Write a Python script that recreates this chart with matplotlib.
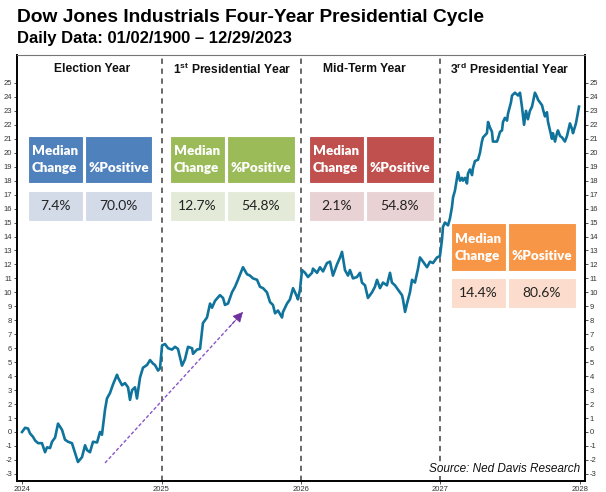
import matplotlib
matplotlib.use("Agg")
import matplotlib.pyplot as plt
from matplotlib.patches import Rectangle

plt.rcParams['font.family'] = ['Liberation Sans', 'DejaVu Sans']
plt.rcParams['mathtext.fontset'] = 'custom'
plt.rcParams['mathtext.rm'] = 'Liberation Sans'
plt.rcParams['mathtext.bf'] = 'Liberation Sans:bold'
plt.rcParams['axes.unicode_minus'] = False

# ---- data ----
# years since start of cycle (election year = 0)
cycle_t = [
    0.000, 0.022, 0.043, 0.057, 0.079, 0.093, 0.115, 0.143, 0.165, 0.179,
    0.201, 0.215, 0.237, 0.258, 0.287, 0.308, 0.330, 0.358, 0.380, 0.401,
    0.430, 0.452, 0.466, 0.487, 0.509, 0.538, 0.559, 0.573, 0.595, 0.609,
    0.631, 0.652, 0.681, 0.688, 0.717, 0.738, 0.760, 0.774, 0.789, 0.810,
    0.824, 0.846, 0.867, 0.896, 0.918, 0.939, 0.953, 0.975, 0.989, 1.004,
    1.025, 1.047, 1.075, 1.097, 1.118, 1.147, 1.168, 1.190, 1.219, 1.226,
    1.254, 1.276, 1.297, 1.326, 1.348, 1.362, 1.384, 1.419, 1.441, 1.455,
    1.477, 1.505, 1.527, 1.548, 1.584, 1.613, 1.634, 1.656, 1.685, 1.706,
    1.728, 1.756, 1.778, 1.799, 1.814, 1.835, 1.864, 1.871, 1.900, 1.921,
    1.943, 1.971, 1.978, 1.993, 2.007, 2.029, 2.050, 2.079, 2.086, 2.115,
    2.136, 2.158, 2.186, 2.208, 2.229, 2.258, 2.280, 2.294, 2.315, 2.337,
    2.351, 2.373, 2.401, 2.423, 2.437, 2.459, 2.480, 2.509, 2.530, 2.545,
    2.566, 2.588, 2.616, 2.638, 2.652, 2.674, 2.695, 2.724, 2.731, 2.746,
    2.760, 2.781, 2.796, 2.817, 2.839, 2.853, 2.875, 2.903, 2.925, 2.946,
    2.975, 2.996, 3.011, 3.018, 3.032, 3.054, 3.068, 3.082, 3.090, 3.104,
    3.118, 3.125, 3.140, 3.154, 3.161, 3.176, 3.190, 3.197, 3.211, 3.226,
    3.233, 3.247, 3.269, 3.283, 3.297, 3.305, 3.333, 3.341, 3.355, 3.369,
    3.376, 3.405, 3.412, 3.427, 3.441, 3.448, 3.462, 3.477, 3.484, 3.505,
    3.513, 3.534, 3.556, 3.570, 3.584, 3.599, 3.613, 3.627, 3.641, 3.656,
    3.677, 3.692, 3.699, 3.728, 3.735, 3.749, 3.763, 3.771, 3.785, 3.799,
    3.806, 3.821, 3.835, 3.842, 3.857, 3.871, 3.892, 3.907, 3.928, 3.943,
    3.950, 3.971, 3.986, 3.993,
]
cycle_pct = [
    0.0, 0.3, 0.25, -0.1, -0.35, -0.6, -0.8, -0.8, -1.45, -1.1,
    -1.15, -0.7, -0.4, 0.6, 0.15, -0.55, -0.7, -0.8, -1.5, -2.15,
    -1.8, -0.95, -1.3, -1.45, -0.7, -0.75, 0.0, -0.2, 1.6, 2.4,
    2.8, 3.4, 4.1, 3.9, 3.35, 3.5, 3.2, 2.3, 3.0, 3.2,
    2.4, 3.9, 4.6, 4.8, 5.15, 4.9, 4.8, 4.4, 4.55, 6.2,
    6.3, 6.0, 5.9, 6.1, 5.95, 4.75, 5.2, 6.1, 6.0, 5.6,
    5.9, 5.95, 7.8, 8.2, 9.2, 8.9, 9.4, 9.8, 9.6, 9.1,
    9.2, 10.0, 10.4, 10.9, 11.8, 11.3, 11.2, 11.0, 10.9, 10.4,
    10.3, 10.0, 9.3, 9.1, 8.5, 8.7, 8.2, 8.6, 9.2, 9.5,
    10.3, 9.7, 9.5, 10.2, 11.6, 11.4, 11.1, 11.4, 11.7, 11.4,
    11.8, 11.5, 12.1, 12.2, 11.2, 12.0, 12.5, 12.9, 11.6, 11.2,
    11.6, 11.0, 11.1, 11.4, 10.7, 10.5, 9.6, 10.0, 10.4, 10.9,
    10.3, 10.7, 10.5, 11.4, 10.7, 10.5, 10.2, 9.8, 9.5, 8.6,
    9.2, 10.0, 10.9, 10.7, 11.7, 12.5, 12.2, 11.8, 12.2, 12.1,
    12.5, 12.6, 13.8, 14.7, 15.0, 14.8, 15.3, 16.1, 16.8, 17.3,
    18.2, 18.6, 18.0, 18.2, 18.0, 18.2, 17.8, 18.5, 18.8, 18.4,
    18.9, 19.4, 19.5, 20.0, 20.8, 21.1, 21.4, 22.2, 21.8, 21.5,
    20.8, 20.8, 21.0, 21.5, 21.6, 22.2, 22.5, 22.3, 22.8, 23.6,
    24.1, 24.3, 24.1, 24.3, 23.3, 22.0, 23.0, 22.4, 23.0, 23.3,
    24.3, 24.0, 23.8, 23.4, 23.1, 22.6, 22.9, 22.2, 21.6, 21.0,
    21.4, 20.8, 21.4, 21.6, 21.2, 21.1, 20.8, 21.2, 22.1, 21.7,
    21.4, 22.1, 22.9, 23.3,
]
start_year = 2024
year_ticks = [2024, 2025, 2026, 2027, 2028]
y_ticks = list(range(-3, 26))

sections = ["Election Year", r"$\mathbf{1^{st}}$ Presidential Year",
            "Mid-Term Year", r"$\mathbf{3^{rd}}$ Presidential Year"]
median_change = ["7.4%", "12.7%", "2.1%", "14.4%"]
pct_positive = ["70.0%", "54.8%", "54.8%", "80.6%"]
head_colors = ["#4F81BD", "#9BBB59", "#C0504D", "#F79646"]
cell_colors = ["#D3DAE8", "#E3EBD8", "#E9D2D3", "#FCDDCD"]

W, H = 606, 492
LINE = "#10739C"

fig = plt.figure(figsize=(W / 100, H / 100), dpi=100)
ax = fig.add_axes([17 / W, 1 - 481 / H, 568 / W, 426 / H])

xs = [start_year + t for t in cycle_t]
ax.plot(xs, cycle_pct, color=LINE, lw=1.9, zorder=4, solid_joinstyle='round')

ax.set_xlim(2023.964, 2028.036)
ax.set_ylim(-3.51, 27.0)

for yr in year_ticks[1:-1]:
    ax.axvline(yr, color="#404040", lw=1.1, ls=(0, (3.5, 3)), zorder=2)

ax.set_xticks(year_ticks)
ax.set_xticklabels([str(y) for y in year_ticks])
ax.set_yticks(y_ticks)
ax.tick_params(axis='both', labelsize=5.5, labelcolor="#333333", length=2,
               width=0.6, color="#333333", pad=1.5)
ax.tick_params(axis='y', which='both', left=True, right=True,
               labelleft=True, labelright=True)
for side in ['left', 'bottom', 'right']:
    ax.spines[side].set_linewidth(1.4)
    ax.spines[side].set_color('black')
ax.spines['top'].set_linewidth(0.8)
ax.spines['top'].set_color('#777777')

# purple dashed trend arrow
a0 = (2024.595, -2.22)
a1 = (2025.584, 8.6)
ax.plot([a0[0], 2025.53], [a0[1], 8.0], color="#8A55C8", lw=1.0,
        ls=(0, (2.5, 1.5)), zorder=3)
ax.annotate("", xy=a1, xytext=(2025.49, 7.55),
            arrowprops=dict(arrowstyle='-|>', color="#7030A0", lw=0.5,
                            mutation_scale=16, shrinkA=0, shrinkB=0), zorder=3)

# titles
fig.text(17 / W, 1 - 17 / H, "Dow Jones Industrials Four-Year Presidential Cycle",
         fontsize=13.8, fontweight='bold', va='center', ha='left')
fig.text(17 / W, 1 - 38 / H, "Daily Data: 01/02/1900 \u2013 12/29/2023",
         fontsize=12, fontweight='bold', va='center', ha='left')

# section headings
sec_cx = [92, 232, 364, 510]
for cx, s in zip(sec_cx, sections):
    fig.text(cx / W, 1 - 69 / H, s, fontsize=8.7, fontweight='bold',
             ha='center', va='center', color="#111111")


def px_box(x0, y0, x1, y1, color):
    r = Rectangle((x0 / W, 1 - y1 / H), (x1 - x0) / W, (y1 - y0) / H,
                  transform=fig.transFigure, facecolor=color,
                  edgecolor='white', lw=0.8, zorder=5, clip_on=False)
    ax.add_patch(r)


def px_text(x, y, s, **kw):
    ax.text(x / W, 1 - y / H, s, transform=fig.transFigure, zorder=6, **kw)


# stat boxes: (x0 median, x1 median, x0 pct, x1 pct, y top head, y bottom head, y top val, y bottom val)
box_geo = [
    (28, 83, 85, 152, 136, 183, 191, 221),
    (170, 225, 227, 295, 136, 183, 191, 221),
    (309, 364, 366, 434, 136, 183, 191, 221),
    (451, 506, 508, 576, 223, 271, 278, 308),
]
hfont = dict(family=['Lato', 'DejaVu Sans'], fontweight='heavy', fontsize=9.6,
             color='white')
vfont = dict(family=['Lato', 'DejaVu Sans'], fontsize=10, color='#222222')
for i, g in enumerate(box_geo):
    ma, mb, pa, pb, ht, hb, vt, vb = g
    px_box(ma, ht, mb, hb, head_colors[i])
    px_box(pa, ht, pb, hb, head_colors[i])
    px_box(ma, vt, mb, vb, cell_colors[i])
    px_box(pa, vt, pb, vb, cell_colors[i])
    hm = (ht + hb) / 2
    px_text(ma + 4, hm - 8, "Median", ha='left', va='center', **hfont)
    px_text(ma + 4, hm + 9, "Change", ha='left', va='center', **hfont)
    px_text((pa + pb) / 2, hm + 9, "%Positive", ha='center', va='center', **hfont)
    vm = (vt + vb) / 2
    px_text((ma + mb) / 2, vm, median_change[i], ha='center', va='center', **vfont)
    px_text((pa + pb) / 2, vm, pct_positive[i], ha='center', va='center', **vfont)

px_text(580, 469, "Source: Ned Davis Research", ha='right', va='center',
        fontsize=8.5, fontstyle='italic', color='#111111',
        bbox=dict(facecolor='white', edgecolor='none', pad=0.5))

fig.savefig("out.png", dpi=100, facecolor='white')
